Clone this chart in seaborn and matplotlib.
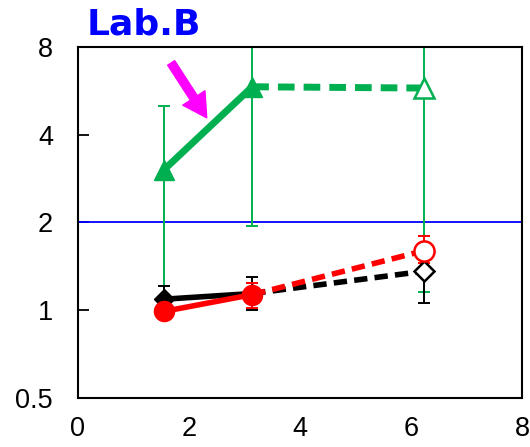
import numpy as np
import pandas as pd
import matplotlib
matplotlib.use("Agg")
import matplotlib.pyplot as plt
import seaborn as sns

# sampling points (x) for the three series
x_days = [1.55, 3.14, 6.24]

green_y = [3.03, 5.84, 5.78]
green_lo = [1.12, 1.95, 1.15]
green_hi = [5.0, 12.0, 12.0]

black_y = [1.09, 1.14, 1.36]
black_lo = [1.0, 1.0, 1.06]
black_hi = [1.21, 1.30, 1.62]

red_y = [0.99, 1.13, 1.60]
red_lo = [0.95, 1.02, 1.45]
red_hi = [1.03, 1.24, 1.80]

y_ticks = [0.5, 1, 2, 4, 8]
y_labels = ["0.5", "1", "2", "4", "8"]
x_ticks = [0, 2, 4, 6, 8]
x_labels = ["0", "2", "4", "6", "8"]
ref_level = 2
title = "Lab.B"

sns.set_style("white")
plt.rcParams['font.family'] = ['Liberation Sans', 'DejaVu Sans']

fig = plt.figure(figsize=(5.30, 4.47), dpi=100)
ax = fig.add_axes([0.147, 0.110, 0.838, 0.785])
ax.set_yscale("log", base=2)

ax.axhline(ref_level, color="#0000ff", lw=1.3, zorder=1)

series = [
    ("green", green_y, green_lo, green_hi, "#00b050", "^", 5.0, 14),
    ("black", black_y, black_lo, black_hi, "black", "D", 4.0, 10.5),
    ("red", red_y, red_lo, red_hi, "#ff0000", "o", 4.0, 14.5),
]

for name, ys, lo, hi, col, mk, lw, ms in series:
    ys = np.array(ys)
    yerr = [ys - np.array(lo), np.array(hi) - ys]
    ax.errorbar(x_days, ys, yerr=yerr, fmt="none", ecolor=col, elinewidth=1.4,
                capsize=4.5, capthick=1.4, zorder=2)
    solid = pd.DataFrame({"x": x_days[:2], "y": ys[:2]})
    dashed = pd.DataFrame({"x": x_days[1:], "y": ys[1:]})
    sns.lineplot(data=solid, x="x", y="y", ax=ax, color=col, lw=lw, zorder=3)
    sns.lineplot(data=dashed, x="x", y="y", ax=ax, color=col, lw=lw,
                 linestyle=(0, (2.4, 1.3)), zorder=3)
    ax.plot(x_days[:2], ys[:2], ls="none", marker=mk, ms=ms, color=col,
            mec=col, zorder=4)
    ax.plot(x_days[2:], ys[2:], ls="none", marker=mk, ms=ms, mfc="white",
            mec=col, mew=1.8, zorder=4)

ax.annotate("", xy=(2.32, 4.57), xytext=(1.68, 7.05),
            arrowprops=dict(facecolor="#ff00ff", edgecolor="#ff00ff",
                            width=6, headwidth=19, headlength=17))

ax.set_xlim(0, 8)
ax.set_ylim(0.5, 8)
ax.set_xticks(x_ticks)
ax.set_xticklabels(x_labels, fontsize=19.5, color="black")
ax.set_yticks(y_ticks)
ax.set_yticklabels(y_labels, fontsize=19.5, color="black")
ax.minorticks_off()
ax.set_xlabel("")
ax.set_ylabel("")
ax.tick_params(axis="y", direction="in", length=8, width=1.3, left=True,
               pad=18, color="black")
ax.tick_params(axis="x", length=0, pad=13)
for sp in ax.spines.values():
    sp.set_color("black")
    sp.set_linewidth(1.5)

fig.text(0.163, 0.945, title, color="#0000ff", fontsize=26, fontweight="bold",
         family="DejaVu Sans", va="center", ha="left")

fig.savefig("out.png", dpi=100)
